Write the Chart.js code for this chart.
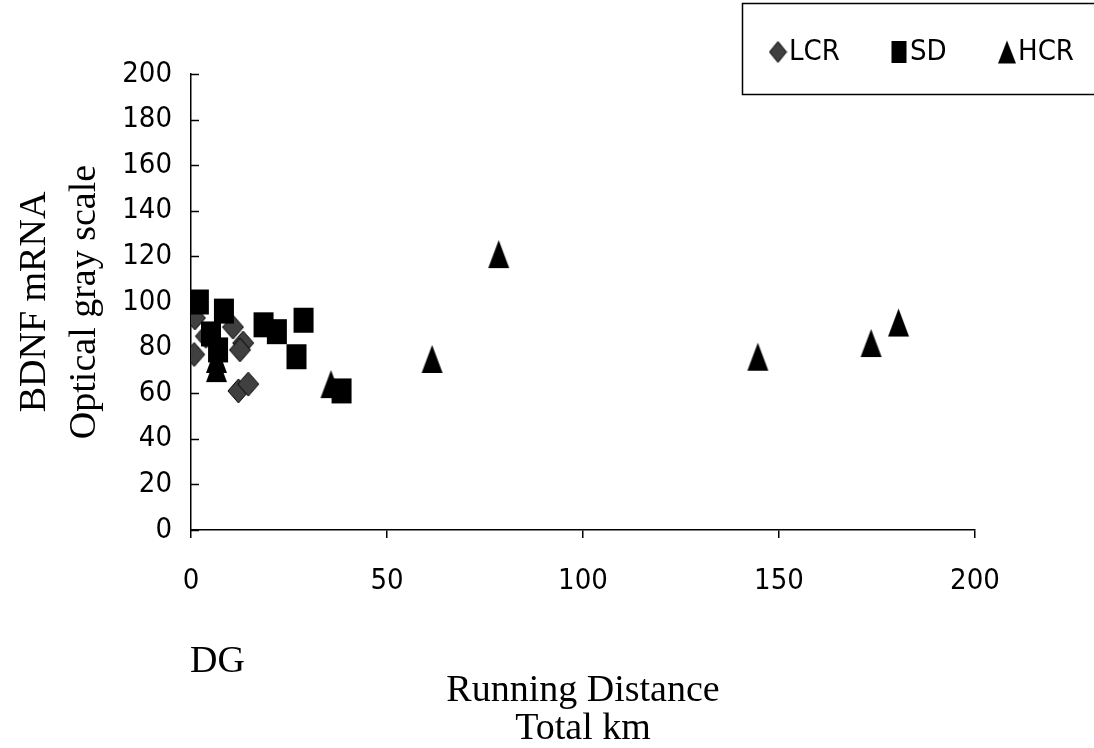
<!DOCTYPE html>
<html>
<head>
<meta charset="utf-8">
<script src="https://cdn.jsdelivr.net/npm/chart.js@4.4.1/dist/chart.umd.min.js"></script>
<style>
  html, body { margin: 0; padding: 0; background: #fff; }
</style>
</head>
<body>
<canvas id="c" width="1094" height="748"></canvas>
<script>
// values (x = running distance km, y = optical gray scale)
const lcrKm   = [1.0, 0.8, 3.8, 10.7, 13.3, 12.5, 12.1, 14.6];
const lcrGray = [93, 77, 85, 89, 82, 79, 61, 64];
const sdKm    = [2.0, 8.4, 5.1, 6.9, 18.5, 21.9, 28.7, 26.9, 38.4];
const sdGray  = [100, 96, 86, 79, 90, 87, 92, 76, 61];
const hcrKm   = [6.5, 6.5, 35.7, 61.5, 78.5, 144.6, 173.5, 180.5];
const hcrGray = [75, 71, 64, 75, 121, 76, 82, 91];
const xTicks  = [0, 50, 100, 150, 200];
const yTicks  = [0, 20, 40, 60, 80, 100, 120, 140, 160, 180, 200];
const seriesNames = ['LCR', 'SD', 'HCR'];

const SANS = '"Liberation Sans Narrow", "DejaVu Sans Condensed", "Liberation Sans", sans-serif';
const SERIF = '"Liberation Serif", "DejaVu Serif", serif';

// small canvases used as point styles
function makeMarker(shape, w, h, fill, stroke) {
  const c = document.createElement('canvas');
  c.width = w + 2; c.height = h + 2;
  const g = c.getContext('2d');
  g.fillStyle = fill;
  g.beginPath();
  if (shape === 'diamond') {
    g.moveTo(c.width / 2, 1); g.lineTo(c.width - 1, c.height / 2);
    g.lineTo(c.width / 2, c.height - 1); g.lineTo(1, c.height / 2);
  } else if (shape === 'triangle') {
    g.moveTo(c.width / 2, 1); g.lineTo(c.width - 1, c.height - 1); g.lineTo(1, c.height - 1);
  } else {
    g.rect(1, 1, w, h);
  }
  g.closePath();
  g.fill();
  if (stroke) { g.strokeStyle = stroke; g.lineWidth = 1; g.stroke(); }
  return c;
}

const diamond = makeMarker('diamond', 21, 24, '#404040', '#000');
const square = makeMarker('square', 20, 25, '#000');
const triangle = makeMarker('triangle', 21, 28, '#000');
const legendMarks = [
  makeMarker('diamond', 17, 21, '#404040', '#000'),
  makeMarker('square', 15, 22, '#000'),
  makeMarker('triangle', 18, 23, '#000')
];

function toPoints(xs, ys) {
  return xs.map((v, i) => ({ x: v, y: ys[i] }));
}

const yInnerTicks = {
  id: 'yInnerTicks',
  beforeDatasetsDraw(chart) {
    const { ctx, scales: { x, y } } = chart;
    ctx.save();
    ctx.strokeStyle = '#000';
    ctx.lineWidth = 1.5;
    ctx.beginPath();
    yTicks.forEach(t => {
      const py = Math.round(y.getPixelForValue(t)) + 0.5;
      ctx.moveTo(x.left, py);
      ctx.lineTo(x.left + 8, py);
    });
    ctx.stroke();
    ctx.restore();
  }
};

const boxLegend = {
  id: 'boxLegend',
  afterDraw(chart) {
    const ctx = chart.ctx;
    ctx.save();
    ctx.strokeStyle = '#000';
    ctx.lineWidth = 1.5;
    ctx.strokeRect(742.5, 3.5, 400, 91);
    ctx.fillStyle = '#000';
    ctx.font = '29px ' + SANS;
    ctx.textBaseline = 'middle';
    const markX = [778, 899, 1007];
    seriesNames.forEach((name, i) => {
      const m = legendMarks[i];
      ctx.drawImage(m, markX[i] - m.width / 2, 52 - m.height / 2);
      ctx.fillText(name, markX[i] + 11, 52);
    });
    // panel label
    ctx.font = '38px ' + SERIF;
    ctx.fillText('DG', 190, 662);
    ctx.restore();
  }
};

new Chart(document.getElementById('c'), {
  type: 'scatter',
  data: {
    datasets: [
      { label: 'LCR', data: toPoints(lcrKm, lcrGray), pointStyle: diamond, pointRadius: 10, order: 2 },
      { label: 'SD', data: toPoints(sdKm, sdGray), pointStyle: square, pointRadius: 10, order: 1 },
      { label: 'HCR', data: toPoints(hcrKm, hcrGray), pointStyle: triangle, pointRadius: 10, order: 0 }
    ]
  },
  options: {
    responsive: false,
    animation: false,
    layout: { padding: { top: 74, right: 119, bottom: 0, left: 0 } },
    plugins: {
      legend: { display: false },
      tooltip: { enabled: false }
    },
    scales: {
      x: {
        type: 'linear',
        min: 0,
        max: 200,
        afterBuildTicks: s => { s.ticks = xTicks.map(v => ({ value: v })); },
        afterFit: s => { s.height = 218; },
        border: { display: true, color: '#000', width: 1.5 },
        grid: { display: true, drawOnChartArea: false, drawTicks: true, tickLength: 8, color: '#000', lineWidth: 1.5 },
        ticks: { color: '#000', padding: 26, font: { family: SANS, size: 29 } },
        title: {
          display: true,
          text: ['Running Distance', 'Total km'],
          color: '#000',
          font: { family: SERIF, size: 38, lineHeight: 1.0 },
          padding: { top: 0, bottom: 0 }
        }
      },
      y: {
        type: 'linear',
        min: 0,
        max: 200,
        afterBuildTicks: s => { s.ticks = yTicks.map(v => ({ value: v })); },
        afterFit: s => { s.width = 191; },
        border: { display: true, color: '#000', width: 1.5 },
        grid: { display: false, drawTicks: false },
        ticks: { color: '#000', padding: 19, font: { family: SANS, size: 29 } },
        title: {
          display: true,
          text: ['BDNF mRNA', 'Optical gray scale'],
          color: '#000',
          font: { family: SERIF, size: 38, lineHeight: 1.32 },
          padding: { top: 10, bottom: 0 }
        }
      }
    }
  },
  plugins: [yInnerTicks, boxLegend]
});
</script>
</body>
</html>
